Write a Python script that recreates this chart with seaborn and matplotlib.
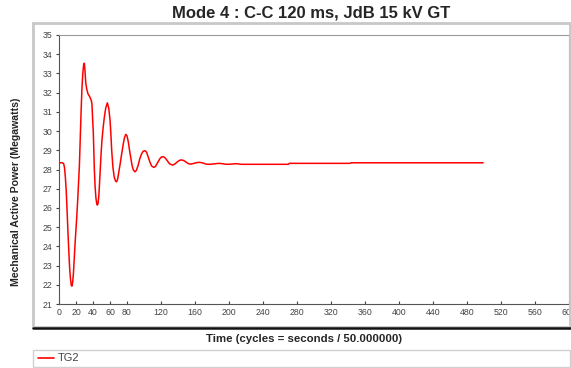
import pandas as pd
import matplotlib.pyplot as plt
import seaborn as sns
from matplotlib.patches import Rectangle
from matplotlib.lines import Line2D

# valeurs (cycles, MW)
cycles = [0, 4, 5.5, 6.5, 7.5, 8.5, 9.5, 10.5, 11.5, 12.5, 13.5, 14.5, 15.2,
          16, 17, 18, 19, 20, 21, 22, 23, 24, 25, 26, 27, 28, 29, 29.8,
          30.5, 31.5, 32.6, 34, 36, 38, 38.8, 39.5, 40.4, 41.6, 42.5, 43.5,
          44.5, 45.2, 46, 47, 48.2, 49.5, 50.5, 52, 53.3, 55, 56.9, 58.5,
          60, 61, 62, 63.5, 65, 66.5, 67.8, 69, 70.5, 72, 73.7, 75.5, 77,
          78.6, 80, 81.5, 83, 84.5, 86, 87.5, 89.4, 91, 93, 95, 97, 99,
          101.2, 103, 105, 107, 109, 111.5, 113.5, 116, 118.5, 120.5, 122.7,
          125, 127.5, 130, 133.5, 136.5, 139.5, 142, 144.5, 147, 150, 152.5,
          155, 158, 161, 164, 166, 170, 173, 176, 180, 184, 188, 191, 195,
          199, 203, 207, 210, 212, 215, 269.6, 271, 342, 344, 499]
tg2 = [28.35, 28.35, 28.3, 28.1, 27.6, 26.9, 25.9, 24.8, 23.8, 22.9, 22.3,
       21.97, 21.93, 22.1, 22.6, 23.4, 24.2, 24.9, 25.6, 26.4, 27.3, 28.2,
       29.6, 31.0, 32.2, 33.0, 33.45, 33.53, 33.2, 32.5, 32.2, 31.95, 31.8,
       31.6, 31.4, 30.7, 29.9, 28.0, 27.1, 26.5, 26.2, 26.15, 26.25, 26.7,
       27.7, 28.8, 29.5, 30.2, 30.7, 31.2, 31.47, 31.2, 30.6, 29.9, 29.0,
       28.1, 27.6, 27.4, 27.36, 27.5, 27.9, 28.3, 28.8, 29.3, 29.65, 29.83,
       29.75, 29.45, 29.0, 28.6, 28.2, 27.97, 27.88, 27.95, 28.2, 28.55,
       28.8, 28.95, 28.98, 28.9, 28.65, 28.38, 28.18, 28.11, 28.16, 28.35,
       28.55, 28.65, 28.67, 28.6, 28.45, 28.3, 28.23, 28.29, 28.41, 28.48,
       28.5, 28.46, 28.37, 28.3, 28.28, 28.31, 28.35, 28.37, 28.37, 28.33,
       28.28, 28.27, 28.28, 28.3, 28.32, 28.31, 28.28, 28.27, 28.28, 28.3,
       28.3, 28.28, 28.27, 28.27, 28.32, 28.32, 28.35, 28.35]

xticks = [0, 20, 40, 60, 80, 120, 160, 200, 240, 280, 320, 360, 400, 440,
          480, 520, 560, 600]
yticks = list(range(21, 36))

df = pd.DataFrame({'cycles': cycles, 'TG2': tg2})

sns.set_style('white')
plt.rcParams['font.family'] = ['Liberation Sans', 'DejaVu Sans']

W, H = 571, 368
fig = plt.figure(figsize=(5.71, 3.68), dpi=100)
ax = fig.add_axes([0.1033, 0.1739, 0.8932, 0.731])

sns.lineplot(data=df, x='cycles', y='TG2', color='#ff0000', linewidth=1.1,
             ax=ax, legend=False)

ax.set_xlim(0, 600)
ax.set_ylim(21, 35)
ax.set_xticks(xticks)
ax.set_xticks(range(0, 601, 20), minor=True)
ax.set_yticks(yticks)
ax.tick_params(axis='x', which='both', direction='in', length=2.5,
               labelsize=6.3, colors='#444444', pad=3)
ax.tick_params(axis='y', direction='out', length=2.5, labelsize=6.3,
               colors='#444444', pad=2)
ax.tick_params(axis='both', left=True, bottom=True)
ax.set_xlabel('')
ax.set_ylabel('')
for s in ax.spines.values():
    s.set_color('#555555')
    s.set_linewidth(0.8)
ax.spines['top'].set_color('#999999')
ax.spines['right'].set_color('#999999')

# cadre gris autour du graphe
fig.patches.append(Rectangle((33 / W, 1 - 327 / H), 537 / W, 304 / H,
                             transform=fig.transFigure, fill=False,
                             edgecolor='#c8c8c8', linewidth=2))
fig.add_artist(Line2D([33 / W, 1], [1 - 328 / H, 1 - 328 / H],
                      transform=fig.transFigure, color='#111111',
                      linewidth=1.8))

fig.text(311 / W, 1 - 13 / H, 'Mode 4 : C-C 120 ms, JdB 15 kV GT',
         ha='center', va='center', fontsize=12, fontweight='bold')
fig.text(304 / W, 1 - 339 / H, 'Time (cycles = seconds / 50.000000)',
         ha='center', va='center', fontsize=8.2, fontweight='bold')
fig.text(16 / W, 1 - 192 / H, 'Mechanical Active Power (Megawatts)',
         ha='center', va='center', rotation=90, fontsize=7.6,
         fontweight='bold')

# légende
fig.patches.append(Rectangle((33 / W, 1 - 367 / H), 537 / W, 17 / H,
                             transform=fig.transFigure, fill=False,
                             edgecolor='#d0d0d0', linewidth=1))
fig.add_artist(Line2D([38 / W, 54 / W], [1 - 358 / H, 1 - 358 / H],
                      transform=fig.transFigure, color='#ff0000',
                      linewidth=1.2))
fig.text(58 / W, 1 - 358 / H, 'TG2', ha='left', va='center', fontsize=8,
         color='#444444')

fig.savefig('out.png', dpi=100)
